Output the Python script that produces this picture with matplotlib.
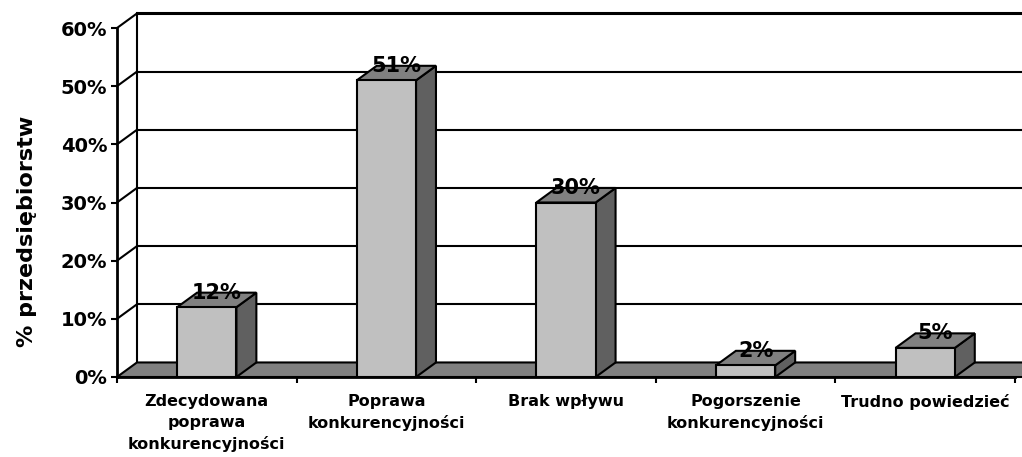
import matplotlib.pyplot as plt
from matplotlib.patches import Polygon

# ---------------------------------------------------------
# Data
# ---------------------------------------------------------

categories = [
    "Zdecydowana\npoprawa\nkonkurencyjności",
    "Poprawa\nkonkurencyjności",
    "Brak wpływu",
    "Pogorszenie\nkonkurencyjności",
    "Trudno powiedzieć",
]
values = [12, 51, 30, 2, 5]
y_ticks = [0, 10, 20, 30, 40, 50, 60]
y_label = "% przedsiębiorstw"

# 3D look: depth offset in category / percent units
DX = 0.111
DY = 2.5
BAR_W = 0.33

FRONT = "#c0c0c0"
TOP = "#808080"
SIDE = "#606060"
FLOOR = "#808080"

plt.rcParams["font.family"] = "DejaVu Sans"
plt.rcParams["font.weight"] = "bold"

fig = plt.figure(figsize=(10.22, 4.57), dpi=100)
ax = fig.add_axes([117 / 1022, 80 / 457, 898 / 1022, 349 / 457])

n = len(categories)
ax.set_xlim(0, n)
ax.set_ylim(0, y_ticks[-1])

# back wall grid + left wall diagonals
for t in y_ticks[1:]:
    lw = 2.2 if t == y_ticks[-1] else 1.5
    ax.plot([DX, n + DX + 0.2], [t + DY, t + DY], color="black", lw=lw,
            clip_on=False, zorder=1, solid_capstyle="butt")
    ax.plot([0, DX], [t, t + DY], color="black", lw=1.5, clip_on=False, zorder=1)
ax.plot([DX, DX], [DY, y_ticks[-1] + DY], color="black", lw=1.5,
        clip_on=False, zorder=1)

# floor
floor = Polygon([(0, 0), (n + DX * 0.6, 0), (n + DX + 0.2, DY), (DX, DY)],
                closed=True, facecolor=FLOOR, edgecolor="black", lw=1.5,
                clip_on=False, zorder=1.5)
ax.add_patch(floor)

# bars
for i, v in enumerate(values):
    x0 = i + 0.5 - BAR_W / 2
    x1 = x0 + BAR_W
    side = Polygon([(x1, 0), (x1 + DX, DY), (x1 + DX, v + DY), (x1, v)],
                   closed=True, facecolor=SIDE, edgecolor="black", lw=1.5,
                   clip_on=False, zorder=3)
    top = Polygon([(x0, v), (x1, v), (x1 + DX, v + DY), (x0 + DX, v + DY)],
                  closed=True, facecolor=TOP, edgecolor="black", lw=1.5,
                  clip_on=False, zorder=3)
    front = Polygon([(x0, 0), (x1, 0), (x1, v), (x0, v)],
                    closed=True, facecolor=FRONT, edgecolor="black", lw=1.5,
                    clip_on=False, zorder=3)
    ax.add_patch(side)
    ax.add_patch(top)
    ax.add_patch(front)
    ax.text(i + 0.5 + DX / 2, v + DY, f"{v}%", ha="center", va="center",
            fontsize=15, fontweight="bold", zorder=4)

# axes
for s in ["top", "right"]:
    ax.spines[s].set_visible(False)
for s in ["left", "bottom"]:
    ax.spines[s].set_linewidth(2)
    ax.spines[s].set_zorder(2.5)

ax.set_yticks(y_ticks)
ax.set_yticklabels([f"{t}%" for t in y_ticks], fontsize=14, fontweight="bold")
ax.tick_params(axis="y", direction="out", length=4, width=1.5, pad=3)

ax.set_xticks(range(n + 1))
ax.set_xticklabels([])
ax.tick_params(axis="x", which="major", direction="out", length=4, width=1.5)
ax.set_xticks([i + 0.5 for i in range(n)], minor=True)
ax.set_xticklabels(categories, minor=True, fontsize=11.5, fontweight="bold",
                   linespacing=1.5, va="top")
ax.tick_params(axis="x", which="minor", length=0, pad=12)

ax.set_ylabel(y_label, fontsize=16, fontweight="bold")
ax.yaxis.set_label_coords(-0.089, 0.418)

fig.savefig("out.png", dpi=100)
